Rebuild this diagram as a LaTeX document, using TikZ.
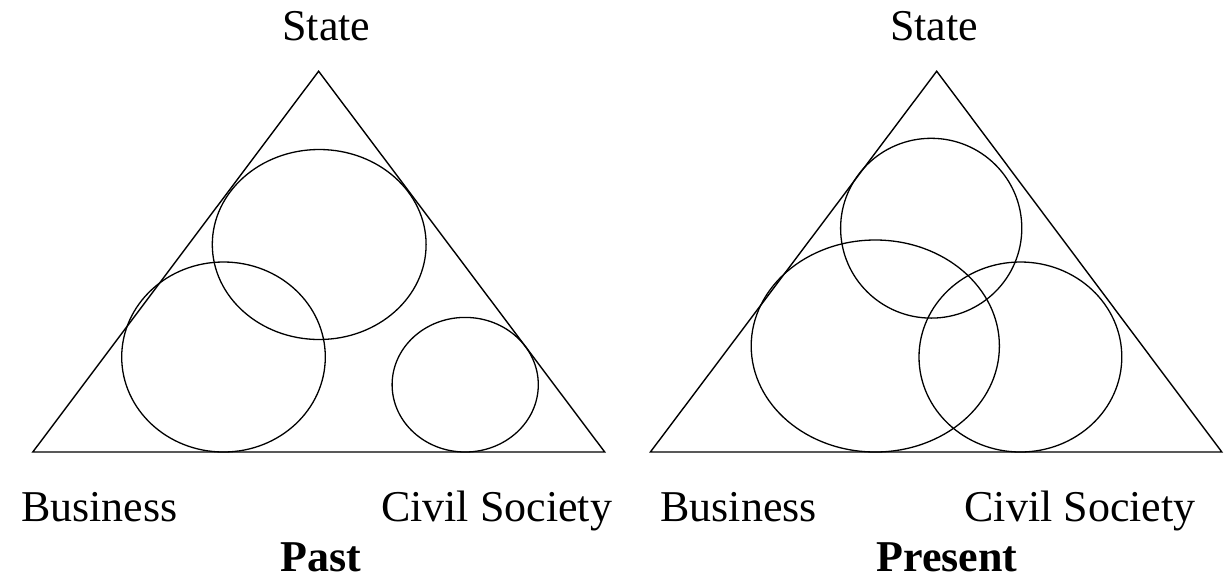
\documentclass[tikz,border=0pt]{standalone}
\usepackage{fontspec}
\setmainfont{Liberation Serif}
\begin{document}
\begin{tikzpicture}[x=0.5pt,y=-0.5pt,
  line/.style={draw=black,line width=0.7pt,line join=miter},
  ring/.style={draw=black,line width=0.65pt},
  lbl/.style={inner sep=0pt,outer sep=0pt,font=\fontsize{22}{26}\selectfont},
  ttl/.style={inner sep=0pt,outer sep=0pt,font=\fontsize{22}{26}\selectfont\bfseries}]
\useasboundingbox (0,0) rectangle (1225,579);
% Past triangle
\coordinate (pA) at (318.6,71.2);
\coordinate (pB) at (32.8,452);
\coordinate (pC) at (604.7,452);
\draw[line] (pA) -- (pB) -- (pC) -- cycle;
\draw[ring] (319.2,244.5) ellipse [x radius=106.9, y radius=95];
\draw[ring] (223.5,357) ellipse [x radius=101.8, y radius=95];
\draw[ring] (465.2,384.7) ellipse [x radius=73.1, y radius=67.3];
% Present triangle
\coordinate (qA) at (936.7,71.2);
\coordinate (qB) at (650.4,452);
\coordinate (qC) at (1221.8,452);
\draw[line] (qA) -- (qB) -- (qC) -- cycle;
\draw[ring] (931.2,228.2) ellipse [x radius=90.6, y radius=89.9];
\draw[ring] (875.3,346) ellipse [x radius=124.1, y radius=106];
\draw[ring] (1020.4,357) ellipse [x radius=101.4, y radius=95];
% labels
\node[lbl,anchor=base] (pS) at (326.5,40.6) {State};
\node[lbl,anchor=base west] (pBu) at (21,521) {Business};
\node[lbl,anchor=base west] (pCS) at (381,521) {Civil Society};
\node[ttl,anchor=base] (pT) at (321,571.5) {Past};
\node[lbl,anchor=base] (qS) at (934,40.6) {State};
\node[lbl,anchor=base west] (qBu) at (660.5,521) {Business};
\node[lbl,anchor=base west] (qCS) at (964.5,521) {Civil Society};
\node[ttl,anchor=base] (qT) at (947,571.5) {Present};
\end{tikzpicture}
\end{document}
